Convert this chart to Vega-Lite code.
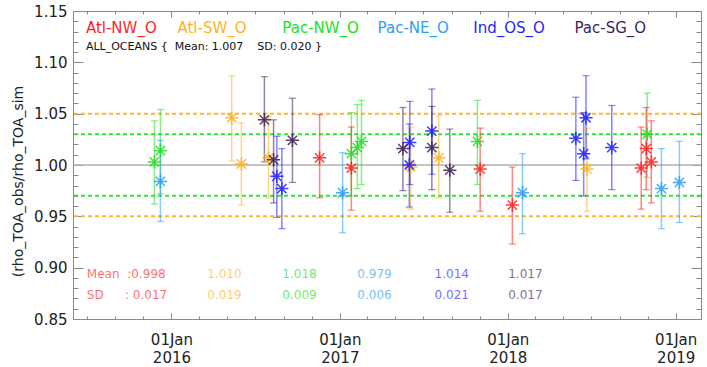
{
  "$schema": "https://vega.github.io/schema/vega-lite/v6.json",
  "width": 628,
  "height": 308,
  "autosize": {"type": "none"},
  "padding": {"left": 73, "top": 11, "right": 6, "bottom": 48},
  "config": {
    "view": {"stroke": "#888888", "strokeWidth": 1},
    "font": "DejaVu Sans",
    "axis": {"grid": false, "domain": false, "tickColor": "#888888", "tickWidth": 1, "labelColor": "#222222", "labelFont": "DejaVu Sans", "labelFontSize": 15, "labelOverlap": false, "labelFlush": false, "labelBound": false, "title": null}
  },
  "datasets": {
    "pts": [
      {"series": "Pac-NW_O", "d": "2015-11-25", "v": 1.003, "lo": 0.962, "hi": 1.043},
      {"series": "Pac-NW_O", "d": "2015-12-08", "v": 1.014, "lo": 0.972, "hi": 1.054},
      {"series": "Pac-NW_O", "d": "2017-01-26", "v": 1.011, "lo": 0.970, "hi": 1.051},
      {"series": "Pac-NW_O", "d": "2017-02-08", "v": 1.017, "lo": 0.977, "hi": 1.059},
      {"series": "Pac-NW_O", "d": "2017-02-17", "v": 1.023, "lo": 0.981, "hi": 1.063},
      {"series": "Pac-NW_O", "d": "2017-10-27", "v": 1.023, "lo": 0.981, "hi": 1.063},
      {"series": "Pac-NW_O", "d": "2018-10-31", "v": 1.030, "lo": 0.988, "hi": 1.070},
      {"series": "Atl-NW_O", "d": "2016-11-18", "v": 1.007, "lo": 0.968, "hi": 1.049},
      {"series": "Atl-NW_O", "d": "2017-01-26", "v": 0.997, "lo": 0.956, "hi": 1.037},
      {"series": "Atl-NW_O", "d": "2017-11-02", "v": 0.996, "lo": 0.955, "hi": 1.036},
      {"series": "Atl-NW_O", "d": "2018-01-11", "v": 0.961, "lo": 0.923, "hi": 0.998},
      {"series": "Atl-NW_O", "d": "2018-10-18", "v": 0.997, "lo": 0.957, "hi": 1.037},
      {"series": "Atl-NW_O", "d": "2018-10-29", "v": 1.016, "lo": 0.976, "hi": 1.056},
      {"series": "Atl-NW_O", "d": "2018-11-09", "v": 1.003, "lo": 0.963, "hi": 1.043},
      {"series": "Atl-SW_O", "d": "2016-05-11", "v": 1.046, "lo": 1.004, "hi": 1.087},
      {"series": "Atl-SW_O", "d": "2016-06-01", "v": 1.001, "lo": 0.961, "hi": 1.041},
      {"series": "Atl-SW_O", "d": "2016-07-30", "v": 1.007, "lo": 0.968, "hi": 1.047},
      {"series": "Atl-SW_O", "d": "2017-06-04", "v": 0.998, "lo": 0.957, "hi": 1.037},
      {"series": "Atl-SW_O", "d": "2017-08-04", "v": 1.007, "lo": 0.968, "hi": 1.048},
      {"series": "Atl-SW_O", "d": "2018-06-22", "v": 0.996, "lo": 0.955, "hi": 1.036},
      {"series": "Pac-NE_O", "d": "2015-12-08", "v": 0.984, "lo": 0.945, "hi": 1.024},
      {"series": "Pac-NE_O", "d": "2017-01-07", "v": 0.973, "lo": 0.934, "hi": 1.012},
      {"series": "Pac-NE_O", "d": "2018-02-02", "v": 0.973, "lo": 0.933, "hi": 1.011},
      {"series": "Pac-NE_O", "d": "2018-12-01", "v": 0.977, "lo": 0.938, "hi": 1.016},
      {"series": "Pac-NE_O", "d": "2019-01-09", "v": 0.983, "lo": 0.944, "hi": 1.023},
      {"series": "Ind_OS_O", "d": "2016-08-17", "v": 0.989, "lo": 0.949, "hi": 1.028},
      {"series": "Ind_OS_O", "d": "2016-08-28", "v": 0.977, "lo": 0.938, "hi": 1.016},
      {"series": "Ind_OS_O", "d": "2017-06-02", "v": 1.022, "lo": 0.981, "hi": 1.062},
      {"series": "Ind_OS_O", "d": "2017-06-01", "v": 1.000, "lo": 0.959, "hi": 1.040},
      {"series": "Ind_OS_O", "d": "2017-07-20", "v": 1.033, "lo": 0.991, "hi": 1.074},
      {"series": "Ind_OS_O", "d": "2018-05-29", "v": 1.026, "lo": 0.985, "hi": 1.066},
      {"series": "Ind_OS_O", "d": "2018-06-20", "v": 1.046, "lo": 1.006, "hi": 1.087},
      {"series": "Ind_OS_O", "d": "2018-06-15", "v": 1.011, "lo": 0.970, "hi": 1.051},
      {"series": "Ind_OS_O", "d": "2018-08-15", "v": 1.017, "lo": 0.976, "hi": 1.058},
      {"series": "Pac-SG_O", "d": "2016-07-21", "v": 1.044, "lo": 1.003, "hi": 1.086},
      {"series": "Pac-SG_O", "d": "2016-08-10", "v": 1.005, "lo": 0.963, "hi": 1.044},
      {"series": "Pac-SG_O", "d": "2016-09-20", "v": 1.024, "lo": 0.983, "hi": 1.065},
      {"series": "Pac-SG_O", "d": "2017-05-18", "v": 1.016, "lo": 0.975, "hi": 1.056},
      {"series": "Pac-SG_O", "d": "2017-07-20", "v": 1.017, "lo": 0.976, "hi": 1.057},
      {"series": "Pac-SG_O", "d": "2017-08-28", "v": 0.995, "lo": 0.954, "hi": 1.035}
    ],
    "names": [
      {"series": "Atl-NW_O", "d": "2015-06-29"},
      {"series": "Atl-SW_O", "d": "2016-01-14"},
      {"series": "Pac-NW_O", "d": "2016-08-29"},
      {"series": "Pac-NE_O", "d": "2017-03-24"},
      {"series": "Ind_OS_O", "d": "2017-10-18"},
      {"series": "Pac-SG_O", "d": "2018-05-26"}
    ],
    "stats": [
      {"series": "Atl-NW_O", "row": "Mean", "txt": "Mean", "d": "2015-07-01"},
      {"series": "Atl-NW_O", "row": "Mean", "txt": ":0.998", "d": "2015-09-27"},
      {"series": "Atl-SW_O", "row": "Mean", "txt": "1.010", "d": "2016-03-19"},
      {"series": "Pac-NW_O", "row": "Mean", "txt": "1.018", "d": "2016-08-29"},
      {"series": "Pac-NE_O", "row": "Mean", "txt": "0.979", "d": "2017-02-08"},
      {"series": "Ind_OS_O", "row": "Mean", "txt": "1.014", "d": "2017-07-26"},
      {"series": "Pac-SG_O", "row": "Mean", "txt": "1.017", "d": "2018-01-02"},
      {"series": "Atl-NW_O", "row": "SD", "txt": "SD", "d": "2015-07-01"},
      {"series": "Atl-NW_O", "row": "SD", "txt": ": 0.017", "d": "2015-09-22"},
      {"series": "Atl-SW_O", "row": "SD", "txt": "0.019", "d": "2016-03-19"},
      {"series": "Pac-NW_O", "row": "SD", "txt": "0.009", "d": "2016-08-29"},
      {"series": "Pac-NE_O", "row": "SD", "txt": "0.006", "d": "2017-02-08"},
      {"series": "Ind_OS_O", "row": "SD", "txt": "0.021", "d": "2017-07-26"},
      {"series": "Pac-SG_O", "row": "SD", "txt": "0.017", "d": "2018-01-02"}
    ],
    "overall": [
      {"txt": "ALL_OCEANS {\u00a0\u00a0Mean: 1.007\u00a0\u00a0\u00a0\u00a0SD: 0.020 }", "d": "2015-06-29"}
    ]
  },
  "layer": [
    {
      "data": {"values": [{"y": 1.0}]},
      "mark": {"type": "rule", "color": "#b0b0b0", "strokeWidth": 1.5},
      "encoding": {"y": {"field": "y", "type": "quantitative", "scale": {"domain": [0.85, 1.15], "nice": false, "zero": false}, "axis": null}}
    },
    {
      "data": {"values": [{"y": 1.05}, {"y": 0.95}]},
      "mark": {"type": "rule", "color": "#ffb52e", "strokeWidth": 2, "strokeDash": [4, 3]},
      "encoding": {"y": {"field": "y", "type": "quantitative", "scale": {"domain": [0.85, 1.15], "nice": false, "zero": false}, "axis": null}}
    },
    {
      "data": {"values": [{"y": 1.03}, {"y": 0.97}]},
      "mark": {"type": "rule", "color": "#33e633", "strokeWidth": 2, "strokeDash": [4, 3]},
      "encoding": {"y": {"field": "y", "type": "quantitative", "scale": {"domain": [0.85, 1.15], "nice": false, "zero": false}, "axis": null}}
    },
    {
      "data": {"name": "pts"},
      "mark": {"type": "rule", "strokeWidth": 1.5, "opacity": 0.55},
      "encoding": {
        "x": {"field": "d", "type": "temporal", "scale": {"type": "utc", "nice": false, "domain": [{"year": 2015, "month": 6, "date": 1, "utc": true}, {"year": 2019, "month": 2, "date": 25, "utc": true}]},
          "axis": {"orient": "bottom", "values": [{"year": 2016, "month": 1, "date": 1, "utc": true}, {"year": 2017, "month": 1, "date": 1, "utc": true}, {"year": 2018, "month": 1, "date": 1, "utc": true}, {"year": 2019, "month": 1, "date": 1, "utc": true}], "tickSize": 6, "offset": -6, "labelPadding": 13, "labelExpr": "['01Jan', utcFormat(datum.value, '%Y')]", "labelLineHeight": 18, "labelBaseline": "top"}},
        "y": {"field": "lo", "type": "quantitative", "scale": {"domain": [0.85, 1.15], "nice": false, "zero": false},
          "axis": {"orient": "left", "values": [0.85, 0.9, 0.95, 1.0, 1.05, 1.1, 1.15], "format": ".2f", "tickSize": 10, "offset": -10, "labelPadding": 6, "title": "(rho_TOA_obs/rho_TOA_sim", "titleFont": "DejaVu Sans", "titleFontSize": 14, "titleFontWeight": "normal", "titleColor": "#222222", "titleX": -65, "titleY": 170, "titleBaseline": "middle", "titleAlign": "center"}},
        "y2": {"field": "hi"},
        "color": {"field": "series", "type": "nominal", "scale": {"domain": ["Atl-NW_O", "Atl-SW_O", "Pac-NW_O", "Pac-NE_O", "Ind_OS_O", "Pac-SG_O"], "range": ["#ff1f1f", "#ffb21e", "#22e022", "#2d9dff", "#1f1fff", "#3d1f55"]}, "legend": null}
      }
    },
    {
      "data": {"name": "pts"},
      "mark": {"type": "tick", "orient": "horizontal", "size": 7, "thickness": 1.2, "opacity": 0.55},
      "encoding": {
        "x": {"field": "d", "type": "temporal", "scale": {"type": "utc", "nice": false, "domain": [{"year": 2015, "month": 6, "date": 1, "utc": true}, {"year": 2019, "month": 2, "date": 25, "utc": true}]},
          "axis": {"orient": "bottom", "values": [{"year": 2015, "month": 7, "date": 1, "utc": true}, {"year": 2015, "month": 9, "date": 1, "utc": true}, {"year": 2015, "month": 11, "date": 1, "utc": true}, {"year": 2016, "month": 3, "date": 1, "utc": true}, {"year": 2016, "month": 5, "date": 1, "utc": true}, {"year": 2016, "month": 7, "date": 1, "utc": true}, {"year": 2016, "month": 9, "date": 1, "utc": true}, {"year": 2016, "month": 11, "date": 1, "utc": true}, {"year": 2017, "month": 3, "date": 1, "utc": true}, {"year": 2017, "month": 5, "date": 1, "utc": true}, {"year": 2017, "month": 7, "date": 1, "utc": true}, {"year": 2017, "month": 9, "date": 1, "utc": true}, {"year": 2017, "month": 11, "date": 1, "utc": true}, {"year": 2018, "month": 3, "date": 1, "utc": true}, {"year": 2018, "month": 5, "date": 1, "utc": true}, {"year": 2018, "month": 7, "date": 1, "utc": true}, {"year": 2018, "month": 9, "date": 1, "utc": true}, {"year": 2018, "month": 11, "date": 1, "utc": true}], "tickSize": 3, "offset": -3, "labels": false}},
        "y": {"field": "lo", "type": "quantitative", "scale": {"domain": [0.85, 1.15], "nice": false, "zero": false},
          "axis": {"orient": "left", "values": [0.86, 0.87, 0.88, 0.89, 0.91, 0.92, 0.93, 0.94, 0.96, 0.97, 0.98, 0.99, 1.01, 1.02, 1.03, 1.04, 1.06, 1.07, 1.08, 1.09, 1.11, 1.12, 1.13, 1.14], "tickSize": 5, "offset": -5, "labels": false}},
        "color": {"field": "series", "type": "nominal", "scale": {"domain": ["Atl-NW_O", "Atl-SW_O", "Pac-NW_O", "Pac-NE_O", "Ind_OS_O", "Pac-SG_O"], "range": ["#ff1f1f", "#ffb21e", "#22e022", "#2d9dff", "#1f1fff", "#3d1f55"]}, "legend": null}
      }
    },
    {
      "data": {"name": "pts"},
      "mark": {"type": "tick", "orient": "horizontal", "size": 7, "thickness": 1.2, "opacity": 0.55},
      "encoding": {
        "x": {"field": "d", "type": "temporal", "scale": {"type": "utc", "nice": false, "domain": [{"year": 2015, "month": 6, "date": 1, "utc": true}, {"year": 2019, "month": 2, "date": 25, "utc": true}]},
          "axis": {"orient": "top", "values": [{"year": 2016, "month": 1, "date": 1, "utc": true}, {"year": 2017, "month": 1, "date": 1, "utc": true}, {"year": 2018, "month": 1, "date": 1, "utc": true}, {"year": 2019, "month": 1, "date": 1, "utc": true}], "tickSize": 6, "offset": -6, "labels": false}},
        "y": {"field": "hi", "type": "quantitative", "scale": {"domain": [0.85, 1.15], "nice": false, "zero": false},
          "axis": {"orient": "right", "values": [0.85, 0.9, 0.95, 1.0, 1.05, 1.1, 1.15], "tickSize": 10, "offset": -10, "labels": false}},
        "color": {"field": "series", "type": "nominal", "scale": {"domain": ["Atl-NW_O", "Atl-SW_O", "Pac-NW_O", "Pac-NE_O", "Ind_OS_O", "Pac-SG_O"], "range": ["#ff1f1f", "#ffb21e", "#22e022", "#2d9dff", "#1f1fff", "#3d1f55"]}, "legend": null}
      }
    },
    {
      "data": {"name": "pts"},
      "mark": {"type": "point", "shape": "M-1,0L1,0M0,-1L0,1M-0.7,-0.7L0.7,0.7M-0.7,0.7L0.7,-0.7", "filled": false, "size": 175, "strokeWidth": 1.5, "opacity": 0.85},
      "encoding": {
        "x": {"field": "d", "type": "temporal", "scale": {"type": "utc", "nice": false, "domain": [{"year": 2015, "month": 6, "date": 1, "utc": true}, {"year": 2019, "month": 2, "date": 25, "utc": true}]},
          "axis": {"orient": "top", "values": [{"year": 2015, "month": 7, "date": 1, "utc": true}, {"year": 2015, "month": 9, "date": 1, "utc": true}, {"year": 2015, "month": 11, "date": 1, "utc": true}, {"year": 2016, "month": 3, "date": 1, "utc": true}, {"year": 2016, "month": 5, "date": 1, "utc": true}, {"year": 2016, "month": 7, "date": 1, "utc": true}, {"year": 2016, "month": 9, "date": 1, "utc": true}, {"year": 2016, "month": 11, "date": 1, "utc": true}, {"year": 2017, "month": 3, "date": 1, "utc": true}, {"year": 2017, "month": 5, "date": 1, "utc": true}, {"year": 2017, "month": 7, "date": 1, "utc": true}, {"year": 2017, "month": 9, "date": 1, "utc": true}, {"year": 2017, "month": 11, "date": 1, "utc": true}, {"year": 2018, "month": 3, "date": 1, "utc": true}, {"year": 2018, "month": 5, "date": 1, "utc": true}, {"year": 2018, "month": 7, "date": 1, "utc": true}, {"year": 2018, "month": 9, "date": 1, "utc": true}, {"year": 2018, "month": 11, "date": 1, "utc": true}], "tickSize": 3, "offset": -3, "labels": false}},
        "y": {"field": "v", "type": "quantitative", "scale": {"domain": [0.85, 1.15], "nice": false, "zero": false},
          "axis": {"orient": "right", "values": [0.86, 0.87, 0.88, 0.89, 0.91, 0.92, 0.93, 0.94, 0.96, 0.97, 0.98, 0.99, 1.01, 1.02, 1.03, 1.04, 1.06, 1.07, 1.08, 1.09, 1.11, 1.12, 1.13, 1.14], "tickSize": 5, "offset": -5, "labels": false}},
        "color": {"field": "series", "type": "nominal", "scale": {"domain": ["Atl-NW_O", "Atl-SW_O", "Pac-NW_O", "Pac-NE_O", "Ind_OS_O", "Pac-SG_O"], "range": ["#ff1f1f", "#ffb21e", "#22e022", "#2d9dff", "#1f1fff", "#3d1f55"]}, "legend": null}
      }
    },
    {
      "data": {"name": "names"},
      "mark": {"type": "text", "align": "left", "baseline": "middle", "fontSize": 15, "font": "DejaVu Sans"},
      "encoding": {
        "x": {"field": "d", "type": "temporal", "scale": {"type": "utc", "nice": false, "domain": [{"year": 2015, "month": 6, "date": 1, "utc": true}, {"year": 2019, "month": 2, "date": 25, "utc": true}]}, "axis": null},
        "y": {"datum": 1.1335, "type": "quantitative", "scale": {"domain": [0.85, 1.15], "nice": false, "zero": false}, "axis": null},
        "text": {"field": "series"},
        "color": {"field": "series", "type": "nominal", "scale": {"domain": ["Atl-NW_O", "Atl-SW_O", "Pac-NW_O", "Pac-NE_O", "Ind_OS_O", "Pac-SG_O"], "range": ["#ff1f1f", "#ffb21e", "#22e022", "#2d9dff", "#1f1fff", "#3d1f55"]}, "legend": null}
      }
    },
    {
      "data": {"name": "overall"},
      "mark": {"type": "text", "align": "left", "baseline": "middle", "fontSize": 11, "font": "DejaVu Sans", "color": "#111111"},
      "encoding": {
        "x": {"field": "d", "type": "temporal", "scale": {"type": "utc", "nice": false, "domain": [{"year": 2015, "month": 6, "date": 1, "utc": true}, {"year": 2019, "month": 2, "date": 25, "utc": true}]}, "axis": null},
        "y": {"datum": 1.1145, "type": "quantitative", "scale": {"domain": [0.85, 1.15], "nice": false, "zero": false}, "axis": null},
        "text": {"field": "txt"}
      }
    },
    {
      "data": {"name": "stats"},
      "transform": [{"filter": "datum.row === 'Mean'"}],
      "mark": {"type": "text", "align": "left", "baseline": "middle", "fontSize": 12, "font": "DejaVu Sans", "opacity": 0.65},
      "encoding": {
        "x": {"field": "d", "type": "temporal", "scale": {"type": "utc", "nice": false, "domain": [{"year": 2015, "month": 6, "date": 1, "utc": true}, {"year": 2019, "month": 2, "date": 25, "utc": true}]}, "axis": null},
        "y": {"datum": 0.8935, "type": "quantitative", "scale": {"domain": [0.85, 1.15], "nice": false, "zero": false}, "axis": null},
        "text": {"field": "txt"},
        "color": {"field": "series", "type": "nominal", "scale": {"domain": ["Atl-NW_O", "Atl-SW_O", "Pac-NW_O", "Pac-NE_O", "Ind_OS_O", "Pac-SG_O"], "range": ["#ff1f1f", "#ffb21e", "#22e022", "#2d9dff", "#1f1fff", "#3d1f55"]}, "legend": null}
      }
    },
    {
      "data": {"name": "stats"},
      "transform": [{"filter": "datum.row === 'SD'"}],
      "mark": {"type": "text", "align": "left", "baseline": "middle", "fontSize": 12, "font": "DejaVu Sans", "opacity": 0.65},
      "encoding": {
        "x": {"field": "d", "type": "temporal", "scale": {"type": "utc", "nice": false, "domain": [{"year": 2015, "month": 6, "date": 1, "utc": true}, {"year": 2019, "month": 2, "date": 25, "utc": true}]}, "axis": null},
        "y": {"datum": 0.8733, "type": "quantitative", "scale": {"domain": [0.85, 1.15], "nice": false, "zero": false}, "axis": null},
        "text": {"field": "txt"},
        "color": {"field": "series", "type": "nominal", "scale": {"domain": ["Atl-NW_O", "Atl-SW_O", "Pac-NW_O", "Pac-NE_O", "Ind_OS_O", "Pac-SG_O"], "range": ["#ff1f1f", "#ffb21e", "#22e022", "#2d9dff", "#1f1fff", "#3d1f55"]}, "legend": null}
      }
    }
  ],
  "resolve": {"axis": {"x": "independent", "y": "independent"}}
}
